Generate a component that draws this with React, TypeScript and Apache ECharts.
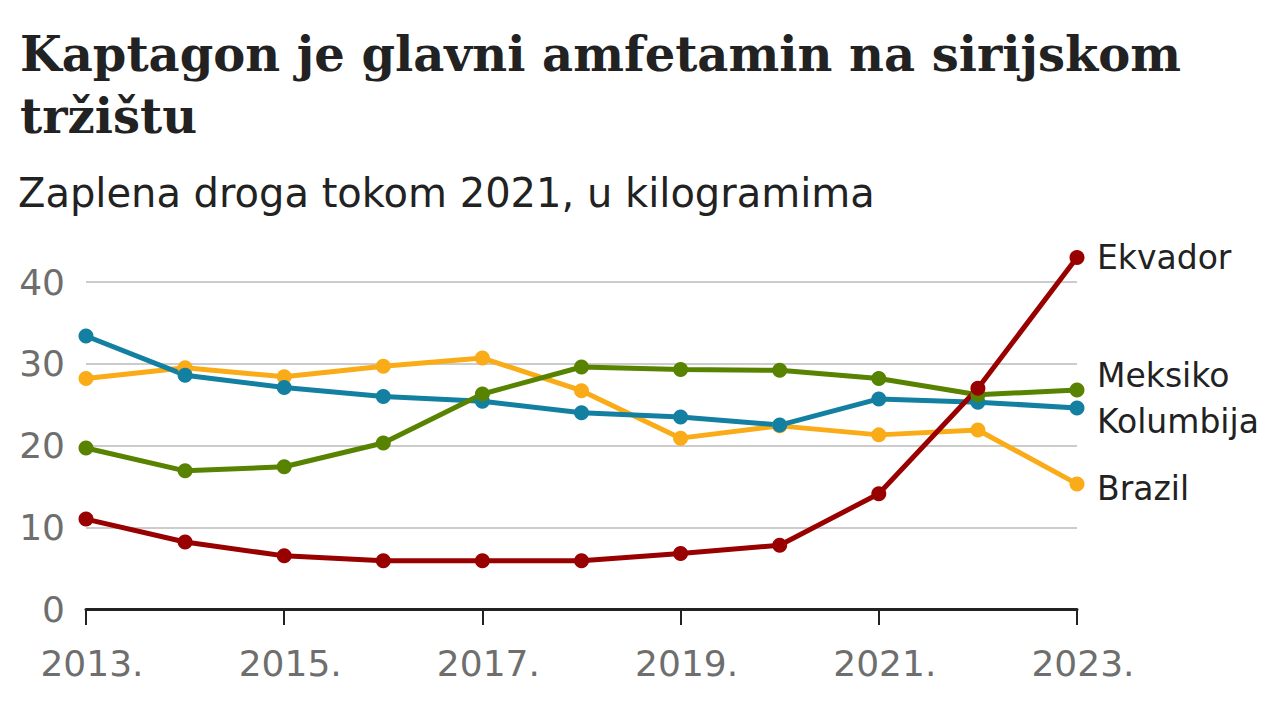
import React, { useEffect, useRef } from "react";
import * as echarts from "echarts";

const years = ["2013.", "2014.", "2015.", "2016.", "2017.", "2018.", "2019.", "2020.", "2021.", "2022.", "2023."];
const ekvador = [11.0, 8.2, 6.5, 5.9, 5.9, 5.9, 6.8, 7.8, 14.1, 27.0, 43.0];
const kolumbija = [33.4, 28.6, 27.1, 26.0, 25.4, 24.0, 23.5, 22.5, 25.7, 25.3, 24.6];
const meksiko = [19.7, 16.9, 17.4, 20.3, 26.3, 29.6, 29.3, 29.2, 28.2, 26.2, 26.8];
const brazil = [28.2, 29.5, 28.4, 29.7, 30.7, 26.7, 20.9, 22.4, 21.3, 21.9, 15.3];
const yTicks = [0, 10, 20, 30, 40];

const TITLE = "Kaptagon je glavni amfetamin na sirijskom\ntržištu";
const SUBTITLE = "Zaplena droga tokom 2021, u kilogramima";

export default function App() {
  const ref = useRef<HTMLDivElement>(null);
  useEffect(() => {
    document.body.style.margin = "0";
    const chart = echarts.init(ref.current!, null, { renderer: "svg" });
    const mk = (name: string, data: number[], color: string, dy: number) => ({
      name,
      type: "line",
      data,
      clip: false,
      symbol: "circle",
      symbolSize: 15,
      lineStyle: { color, width: 5 },
      itemStyle: { color },
      emphasis: { disabled: true },
      endLabel: {
        show: true,
        formatter: "{a}",
        distance: 20,
        offset: [0, dy],
        color: "#222222",
        fontFamily: "DejaVu Sans",
        fontSize: 33,
      },
    });
    chart.setOption({
      animation: false,
      backgroundColor: "#ffffff",
      title: [
        {
          text: TITLE,
          left: 15,
          top: 18,
          textStyle: {
            fontFamily: "DejaVu Serif",
            fontWeight: "bold",
            fontSize: 48,
            lineHeight: 62,
            color: "#222222",
          },
        },
        {
          text: SUBTITLE,
          left: 13,
          top: 168,
          textStyle: {
            fontFamily: "DejaVu Sans",
            fontWeight: "normal",
            fontSize: 40,
            color: "#222222",
          },
        },
      ],
      grid: { left: 86, right: 203, top: 282, bottom: 111, containLabel: false },
      xAxis: {
        type: "category",
        data: years,
        boundaryGap: false,
        axisLine: { lineStyle: { color: "#222222", width: 3 } },
        axisTick: { interval: 1, length: 16, lineStyle: { color: "#222222", width: 2 } },
        axisLabel: {
          interval: 1,
          margin: 36,
          padding: [0, 0, 0, 12],
          color: "#6e6e6e",
          fontFamily: "DejaVu Sans",
          fontSize: 36,
        },
        splitLine: { show: false },
      },
      yAxis: {
        type: "value",
        min: yTicks[0],
        max: yTicks[yTicks.length - 1],
        interval: 10,
        axisLine: { show: false },
        axisTick: { show: false },
        axisLabel: {
          margin: 21,
          color: "#6e6e6e",
          fontFamily: "DejaVu Sans",
          fontSize: 36,
        },
        splitLine: { lineStyle: { color: "#cccccc", width: 2 } },
      },
      series: [
        mk("Brazil", brazil, "#FAAB18", 5),
        mk("Kolumbija", kolumbija, "#1380A1", 14),
        mk("Meksiko", meksiko, "#588300", -14),
        mk("Ekvador", ekvador, "#990000", 0),
      ],
    });
    return () => chart.dispose();
  }, []);
  return <div ref={ref} style={{ position: "absolute", left: 0, top: 0, width: 1280, height: 720 }} />;
}
